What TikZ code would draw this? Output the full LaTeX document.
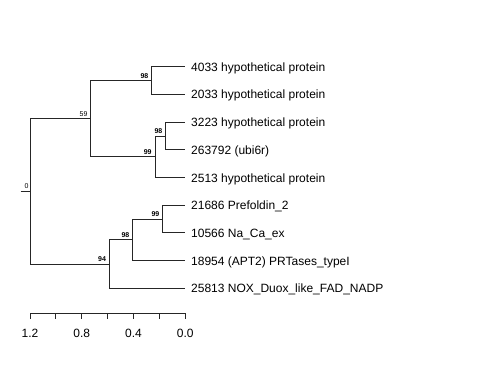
\documentclass[tikz,border=0pt]{standalone}
\usepackage{fontspec}
\setmainfont{Liberation Sans}
\begin{document}
\begin{tikzpicture}[x=1pt,y=-1pt,
  branch/.style={draw=black!85,line width=0.9pt},
  leaflab/.style={anchor=base west,inner sep=0pt,font=\fontsize{12}{14}\selectfont},
  boot/.style={anchor=base east,inner sep=0pt,font=\fontsize{7}{8}\selectfont\bfseries},
  bootn/.style={anchor=base east,inner sep=0pt,font=\fontsize{7}{8}\selectfont},
  ticklab/.style={anchor=base,inner sep=0pt,font=\fontsize{12}{14}\selectfont}]
\useasboundingbox (0,0) rectangle (480,384);
% leaves
\coordinate (l1) at (185.3,66.7);
\coordinate (l2) at (185.3,94.4);
\coordinate (l3) at (185.3,122.1);
\coordinate (l4) at (185.3,149.8);
\coordinate (l5) at (185.3,177.5);
\coordinate (l6) at (185.3,205.2);
\coordinate (l7) at (185.3,232.9);
\coordinate (l8) at (185.3,260.6);
\coordinate (l9) at (185.3,288.3);
% internal
\coordinate (A) at (151.7,80.5);
\coordinate (B) at (165.7,136);
\coordinate (C) at (155,156.7);
\coordinate (D) at (90.7,118.6);
\coordinate (E) at (162.7,219);
\coordinate (F) at (132.7,239.8);
\coordinate (G) at (109.3,264);
\coordinate (R) at (30,191.3);
\coordinate (stub) at (20.7,191.3);
% branches
\draw[branch] (A) |- (l1); \draw[branch] (A) |- (l2);
\draw[branch] (B) |- (l3); \draw[branch] (B) |- (l4);
\draw[branch] (C) |- (B); \draw[branch] (C) |- (l5);
\draw[branch] (D) |- (A); \draw[branch] (D) |- (C);
\draw[branch] (E) |- (l6); \draw[branch] (E) |- (l7);
\draw[branch] (F) |- (E); \draw[branch] (F) |- (l8);
\draw[branch] (G) |- (F); \draw[branch] (G) |- (l9);
\draw[branch] (R) |- (D); \draw[branch] (R) |- (G);
\draw[branch] (stub) -- (R);
% leaf labels
\node[leaflab] (t1) at (191,71.2) {4033 hypothetical protein};
\node[leaflab] (t2) at (191,98.9) {2033 hypothetical protein};
\node[leaflab] (t3) at (191,126.6) {3223 hypothetical protein};
\node[leaflab] (t4) at (191,154.3) {263792 (ubi6r)};
\node[leaflab] (t5) at (191,182.0) {2513 hypothetical protein};
\node[leaflab] (t6) at (191,209.7) {21686 Prefoldin\_2};
\node[leaflab] (t7) at (191,237.4) {10566 Na\_Ca\_ex};
\node[leaflab] (t8) at (191,265.1) {18954 (APT2) PRTases\_typeI};
\node[leaflab] (t9) at (191,292.8) {25813 NOX\_Duox\_like\_FAD\_NADP};
% support values
\node[boot] (bA) at (148.5,78) {98};
\node[boot] (bB) at (162.5,133.5) {98};
\node[boot] (bC) at (151.8,154.2) {99};
\node[bootn] (bD) at (87.7,116.1) {59};
\node[boot] (bE) at (159.5,216.5) {99};
\node[boot] (bF) at (129.5,237.3) {98};
\node[boot] (bG) at (106.1,261.5) {94};
\node[bootn] (bR) at (28.8,188.8) {0};
% axis
\coordinate (ax0) at (30,313.3);
\coordinate (ax1) at (185.3,313.3);
\draw[branch] (ax0) -- (ax1);
\foreach \i in {0,...,6} {
  \draw[branch] ({30+\i*25.883},313.3) -- ({30+\i*25.883},318.8);
}
\node[ticklab] (k1) at (30,337.5) {1.2};
\node[ticklab] (k2) at (81.77,337.5) {0.8};
\node[ticklab] (k3) at (133.53,337.5) {0.4};
\node[ticklab] (k4) at (185.3,337.5) {0.0};
\end{tikzpicture}
\end{document}
